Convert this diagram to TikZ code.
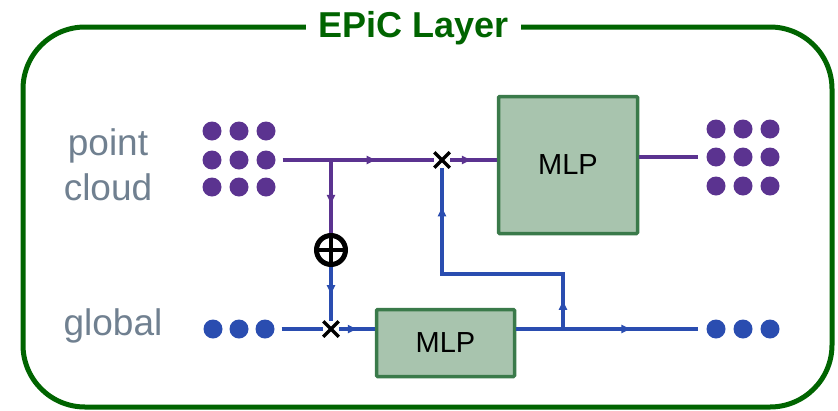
\documentclass[tikz,border=0pt]{standalone}
\usepackage{fontspec}
\setmainfont{Liberation Sans}
\usetikzlibrary{positioning, arrows.meta, shapes.misc, decorations.markings}

\definecolor{pcpurple}{RGB}{91,51,144}
\definecolor{glblue}{RGB}{42,77,176}
\definecolor{mlpfill}{RGB}{168,196,174}
\definecolor{mlpborder}{RGB}{58,122,74}
\definecolor{framegreen}{RGB}{0,100,0}
\definecolor{textgray}{RGB}{112,128,144}

\begin{document}
\begin{tikzpicture}[
    x=1pt, y=-1pt,
    frame/.style={draw=framegreen, line width=5pt, rounded corners=62pt},
    title/.style={fill=white, text=framegreen, inner xsep=12pt, font=\fontsize{36}{40}\selectfont\bfseries},
    sidetext/.style={text=textgray, align=center, font=\fontsize{37}{45}\selectfont},
    dot/.style={circle, fill=#1, inner sep=0pt, minimum size=19pt},
    mlp/.style={rectangle, draw=mlpborder, fill=mlpfill, line width=3.5pt, rounded corners=1pt, font=\fontsize{29}{34}\selectfont},
    flow/.style={line width=3.2pt},
    pcflow/.style={flow, draw=pcpurple},
    glflow/.style={flow, draw=glblue},
    midarrow/.style={postaction={decorate, decoration={markings, mark=at position #1 with {\arrow{Triangle[length=9pt, width=8pt]}}}}},
    mult/.style={cross out, draw=black, line width=3.5pt, minimum size=12pt, inner sep=0pt},
    combiner/.style={circle, draw=black, line width=5pt, minimum size=29pt, inner sep=0pt,
        path picture={\draw[line width=4pt] (path picture bounding box.north) -- (path picture bounding box.south)
                      (path picture bounding box.west) -- (path picture bounding box.east);}}
]
    \useasboundingbox (0,0) rectangle (838,410);
    \draw[frame] (23,27) rectangle (832,407);
    \node[title, anchor=base] (heading) at (413.5,37) {EPiC Layer};

    % inputs and outputs
    \node[sidetext] (pclabel) at (108,165) {point\\cloud};
    \node[sidetext, anchor=base] (gllabel) at (113,335) {global};
    \foreach \r/\yy in {1/131,2/160,3/187}
        \foreach \c/\xx in {1/212,2/239,3/266}
            \node[dot=pcpurple] (pcin-\r-\c) at (\xx,\yy) {};
    \foreach \r/\yy in {1/129,2/157,3/186}
        \foreach \c/\xx in {1/716,2/743,3/770}
            \node[dot=pcpurple] (pcout-\r-\c) at (\xx,\yy) {};
    \foreach \c/\xx in {1/213,2/239,3/265}
        \node[dot=glblue] (glin-\c) at (\xx,329) {};
    \foreach \c/\xx in {1/716,2/743,3/770}
        \node[dot=glblue] (glout-\c) at (\xx,329) {};

    % blocks
    \node[mlp, minimum width=139pt, minimum height=137pt] (bigmlp) at (568,165) {MLP};
    \node[mlp, minimum width=138pt, minimum height=67pt] (smallmlp) at (445.5,343) {MLP};
    \node[mult] (cross1) at (442,160) {};
    \node[mult] (cross2) at (331,329) {};
    \node[combiner] (combine) at (331,250) {};
    \coordinate (split1) at (331,160);
    \coordinate (split2) at (563,329);
    \coordinate (bend1) at (563,274);
    \coordinate (bend2) at (442,274);

    % connectors
    \draw[pcflow, midarrow=0.63, shorten <=7pt] (pcin-2-3) -- (cross1);
    \draw[pcflow, midarrow=0.45] (cross1) -- (cross1 -| bigmlp.west);
    \draw[pcflow, shorten >=8pt] (bigmlp.east |- pcout-2-1) -- (pcout-2-1);
    \draw[pcflow, midarrow=0.6] (split1) -- (combine);
    \draw[glflow, midarrow=0.5] (combine) -- (cross2);
    \draw[glflow, shorten <=7pt] (glin-3) -- (cross2);
    \draw[glflow, midarrow=0.5] (cross2) -- (cross2 -| smallmlp.west);
    \draw[glflow, midarrow=0.6, shorten >=8pt] (smallmlp.east |- cross2) -- (glout-1);
    \draw[glflow, midarrow=0.1, midarrow=0.86] (split2) -- (bend1) -- (bend2) -- (cross1);
\end{tikzpicture}
\end{document}
